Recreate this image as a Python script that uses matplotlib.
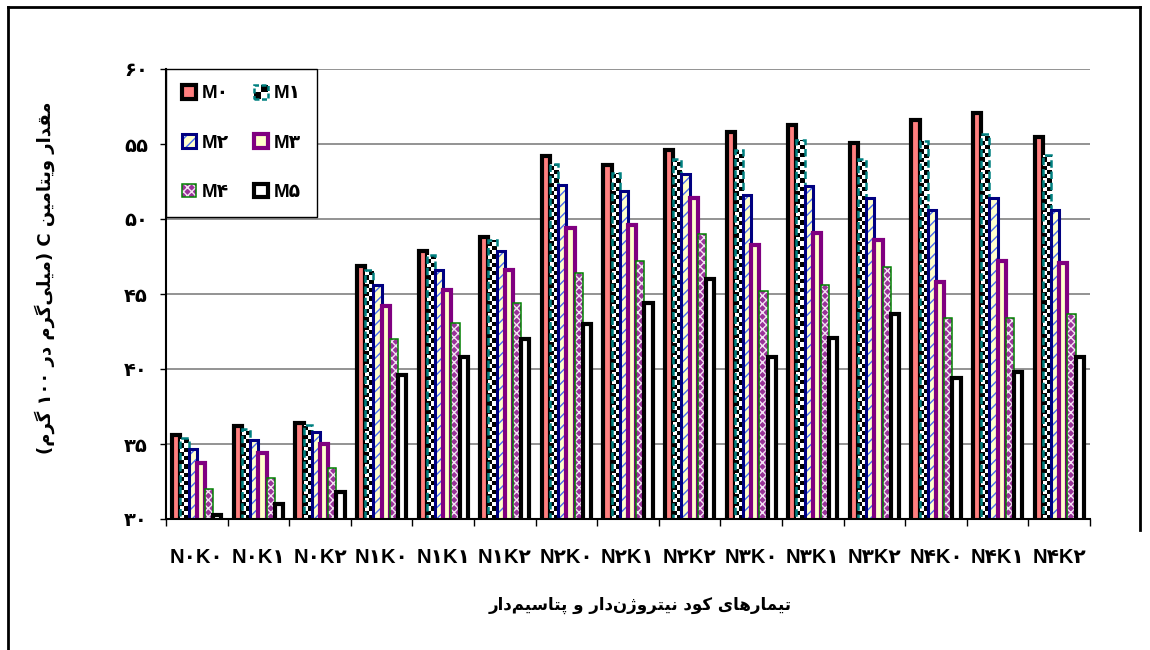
import numpy as np
import matplotlib
matplotlib.use("Agg")
import matplotlib.pyplot as plt
from matplotlib.patches import Rectangle, Patch
from matplotlib.legend_handler import HandlerBase
from matplotlib.colors import ListedColormap
from matplotlib.lines import Line2D

# ---------------- data ----------------
categories = ["N۰K۰", "N۰K۱", "N۰K۲", "N۱K۰", "N۱K۱", "N۱K۲", "N۲K۰", "N۲K۱",
              "N۲K۲", "N۳K۰", "N۳K۱", "N۳K۲", "N۴K۰", "N۴K۱", "N۴K۲"]
series_names = ["M۰", "M۱", "M۲", "M۳", "M۴", "M۵"]
M0 = [35.6, 36.2, 36.4, 46.9, 47.9, 48.8, 54.2, 53.6, 54.6, 55.8, 56.3, 55.1, 56.6, 57.1, 55.5]
M1 = [35.4, 36.0, 36.3, 46.6, 47.6, 48.6, 53.7, 53.1, 54.0, 54.6, 55.3, 54.0, 55.2, 55.7, 54.3]
M2 = [34.7, 35.3, 35.8, 45.6, 46.6, 47.9, 52.3, 51.9, 53.0, 51.6, 52.2, 51.4, 50.6, 51.4, 50.6]
M3 = [33.7, 34.4, 35.0, 44.2, 45.3, 46.6, 49.4, 49.6, 51.4, 48.3, 49.1, 48.6, 45.8, 47.2, 47.1]
M4 = [32.0, 32.7, 33.4, 42.0, 43.1, 44.4, 46.4, 47.2, 49.0, 45.2, 45.6, 46.8, 43.4, 43.4, 43.7]
M5 = [30.3, 31.0, 31.8, 39.6, 40.8, 42.0, 43.0, 44.4, 46.0, 40.8, 42.1, 43.7, 39.4, 39.8, 40.8]
y_ticks = [30, 35, 40, 45, 50, 55, 60]
y_tick_labels = ["۳۰", "۳۵", "۴۰", "۴۵", "۵۰", "۵۵", "۶۰"]
y_label = "مقدار ویتامین C (میلی‌گرم در ۱۰۰ گرم)"
x_label = "تیمارهای کود نیتروژن‌دار و پتاسیم‌دار"

# ------------- minimal Arabic-script shaping + RTL ordering -------------
FORMS = {
    "\u0627": (0xFE8D, 0xFE8E, None, None),
    "\u0628": (0xFE8F, 0xFE90, 0xFE91, 0xFE92),
    "\u067E": (0xFB56, 0xFB57, 0xFB58, 0xFB59),
    "\u062A": (0xFE95, 0xFE96, 0xFE97, 0xFE98),
    "\u062F": (0xFEA9, 0xFEAA, None, None),
    "\u0631": (0xFEAD, 0xFEAE, None, None),
    "\u0632": (0xFEAF, 0xFEB0, None, None),
    "\u0698": (0xFB8A, 0xFB8B, None, None),
    "\u0633": (0xFEB1, 0xFEB2, 0xFEB3, 0xFEB4),
    "\u0642": (0xFED5, 0xFED6, 0xFED7, 0xFED8),
    "\u06A9": (0xFB8E, 0xFB8F, 0xFB90, 0xFB91),
    "\u06AF": (0xFB92, 0xFB93, 0xFB94, 0xFB95),
    "\u0644": (0xFEDD, 0xFEDE, 0xFEDF, 0xFEE0),
    "\u0645": (0xFEE1, 0xFEE2, 0xFEE3, 0xFEE4),
    "\u0646": (0xFEE5, 0xFEE6, 0xFEE7, 0xFEE8),
    "\u0647": (0xFEE9, 0xFEEA, 0xFEEB, 0xFEEC),
    "\u0648": (0xFEED, 0xFEEE, None, None),
    "\u06CC": (0xFBFC, 0xFBFD, 0xFBFE, 0xFBFF),
}


def rtl(text):
    text = text.replace("\u064A", "\u06CC").replace("\u0643", "\u06A9")
    chars = list(text)
    shaped = []
    for i, c in enumerate(chars):
        if c not in FORMS:
            shaped.append(c)
            continue
        prev = chars[i - 1] if i > 0 else None
        nxt = chars[i + 1] if i + 1 < len(chars) else None
        jp = prev in FORMS and FORMS[prev][2] is not None
        jn = FORMS[c][2] is not None and nxt in FORMS
        f = FORMS[c]
        code = f[3] if (jp and jn) else f[1] if jp else f[2] if jn else f[0]
        shaped.append(chr(code))
    tokens, run = [], ""
    for c in shaped:
        if (c.isascii() and c.isalnum()) or "\u06F0" <= c <= "\u06F9":
            run += c
            continue
        if run:
            tokens.append(run)
            run = ""
        if c == "\u200c":
            continue
        tokens.append({"(": ")", ")": "("}.get(c, c))
    if run:
        tokens.append(run)
    return "".join(reversed(tokens))


# ---------------- figure ----------------
plt.rcParams["font.family"] = ["DejaVu Sans"]
plt.rcParams["hatch.linewidth"] = 1.0
tick_family = ["Liberation Sans", "DejaVu Sans"]

fig = plt.figure(figsize=(11.5, 6.5), dpi=100)
ax = fig.add_axes([166 / 1150, 1 - 519 / 650, 924 / 1150, 450 / 650])

values = [M0, M1, M2, M3, M4, M5]
n_series = len(values)
x = np.arange(len(categories))
width = 0.8 / n_series
ymin, ymax = y_ticks[0], y_ticks[-1]

styles = [
    dict(fc="#FF7F7F", ec="black", lw=3.0, ls="solid", hatch=None, hc=None),
    dict(fc="white", ec="#008080", lw=1.8, ls=(0, (3, 1.5)), hatch=None, hc=None),
    dict(fc="#FFFFCC", ec="#000080", lw=2.2, ls="solid", hatch="///", hc="#4A6CF0"),
    dict(fc="#FFFFCC", ec="#800080", lw=3.0, ls="solid", hatch=None, hc=None),
    dict(fc="#993399", ec="#008000", lw=1.1, ls="solid", hatch="xxxx", hc="#F4E4F4"),
    dict(fc="white", ec="black", lw=3.0, ls="solid", hatch=None, hc=None),
]

checker_cmap = ListedColormap(["white", "black"])
sq = 0.28  # checker square height in data units

for i, (vals, st) in enumerate(zip(values, styles)):
    xpos = x + (i - (n_series - 1) / 2) * width
    z = 2 + i * 0.1
    if st["hatch"]:
        faces = ax.bar(xpos, vals, width, color=st["fc"], edgecolor=st["hc"],
                       hatch=st["hatch"], linewidth=0, zorder=z)
    else:
        faces = ax.bar(xpos, vals, width, color=st["fc"], linewidth=0, zorder=z)
    if i == 1:
        for p in faces.patches:
            x0, w = p.get_x(), p.get_width()
            top = p.get_y() + p.get_height()
            ny = int(np.ceil((top - ymin) / sq))
            arr = np.add.outer(np.arange(ny), np.arange(2)) % 2
            im = ax.imshow(arr, cmap=checker_cmap, extent=(x0, x0 + w, ymin, ymin + ny * sq),
                           origin="lower", aspect="auto", interpolation="nearest",
                           zorder=z + 0.02)
            im.set_clip_path(p)
    ax.bar(xpos, vals, width, fill=False, edgecolor=st["ec"], linewidth=st["lw"],
           linestyle=st["ls"], zorder=z + 0.05)

ax.set_xlim(-0.5, len(categories) - 0.5)
ax.set_ylim(ymin, ymax)
ax.set_yticks(y_ticks, labels=y_tick_labels)
ax.set_xticks(x, labels=categories)
ax.set_xticks(np.arange(len(categories) + 1) - 0.5, minor=True)
ax.tick_params(axis="x", which="major", length=0, pad=21)
ax.tick_params(axis="x", which="minor", length=5, width=1, direction="out")
ax.tick_params(axis="y", which="major", length=4, width=1, pad=9)
for lab in ax.get_xticklabels():
    lab.set_fontfamily(tick_family)
    lab.set_fontweight("bold")
    lab.set_fontsize(14.5)
for lab in ax.get_yticklabels():
    lab.set_fontweight("bold")
    lab.set_fontsize(14)

ax.yaxis.grid(True, color="#808080", linewidth=1.2)
ax.set_axisbelow(True)
ax.spines["top"].set_visible(False)
ax.spines["right"].set_visible(False)
ax.spines["left"].set_linewidth(1.5)
ax.spines["bottom"].set_linewidth(1.5)

ax.set_ylabel(rtl(y_label), fontsize=13, fontweight="bold")
ax.yaxis.set_label_coords(-0.12, 0.536)
ax.set_xlabel(rtl(x_label), fontsize=12, fontweight="bold")
ax.xaxis.set_label_coords(0.513, -0.17)


# ---------------- legend ----------------
class CheckerHandler(HandlerBase):
    def create_artists(self, legend, orig_handle, xdescent, ydescent, width, height,
                       fontsize, trans):
        arts = []
        for r in range(2):
            for c in range(2):
                col = "black" if (r + c) % 2 == 0 else "white"
                arts.append(Rectangle((-xdescent + c * width / 2, -ydescent + r * height / 2),
                                      width / 2, height / 2, facecolor=col,
                                      edgecolor="none", transform=trans))
        arts.append(Rectangle((-xdescent, -ydescent), width, height, fill=False,
                              edgecolor="#008080", linewidth=1.8, linestyle=(0, (2, 1)),
                              transform=trans))
        return arts


h0 = Patch(facecolor=styles[0]["fc"], edgecolor="black", linewidth=3)
h1 = Patch()
h2 = (Patch(facecolor=styles[2]["fc"], edgecolor=styles[2]["hc"], hatch="///", linewidth=0),
      Patch(fill=False, edgecolor=styles[2]["ec"], linewidth=2.2))
h3 = Patch(facecolor=styles[3]["fc"], edgecolor=styles[3]["ec"], linewidth=3)
h4 = (Patch(facecolor=styles[4]["fc"], edgecolor=styles[4]["hc"], hatch="xxxx", linewidth=0),
      Patch(fill=False, edgecolor=styles[4]["ec"], linewidth=1.1))
h5 = Patch(facecolor="white", edgecolor="black", linewidth=3)

handles = [h0, h2, h4, h1, h3, h5]
labels = [series_names[k] for k in (0, 2, 4, 1, 3, 5)]
leg = ax.legend(handles, labels, loc="upper left", bbox_to_anchor=(0, 1),
                borderaxespad=0, ncol=2, frameon=True, fancybox=False,
                edgecolor="black", framealpha=1, handlelength=0.75, handleheight=0.75,
                labelspacing=1.7, columnspacing=1.35, handletextpad=0.3, borderpad=0.85,
                prop=dict(family=tick_family, size=13.5, weight="bold"),
                handler_map={h1: CheckerHandler()})
leg.get_frame().set_linewidth(1.0)
leg.set_zorder(10)

# outer frame
fig.add_artist(Line2D([8 / 1150, 8 / 1150], [0, 1 - 7 / 650], color="black", lw=2,
                      transform=fig.transFigure))
fig.add_artist(Line2D([8 / 1150, 1140 / 1150], [1 - 7 / 650, 1 - 7 / 650], color="black",
                      lw=2, transform=fig.transFigure))
fig.add_artist(Line2D([1140 / 1150, 1140 / 1150], [1 - 530 / 650, 1 - 7 / 650],
                      color="black", lw=2, transform=fig.transFigure))

fig.savefig("out.png", dpi=100)
